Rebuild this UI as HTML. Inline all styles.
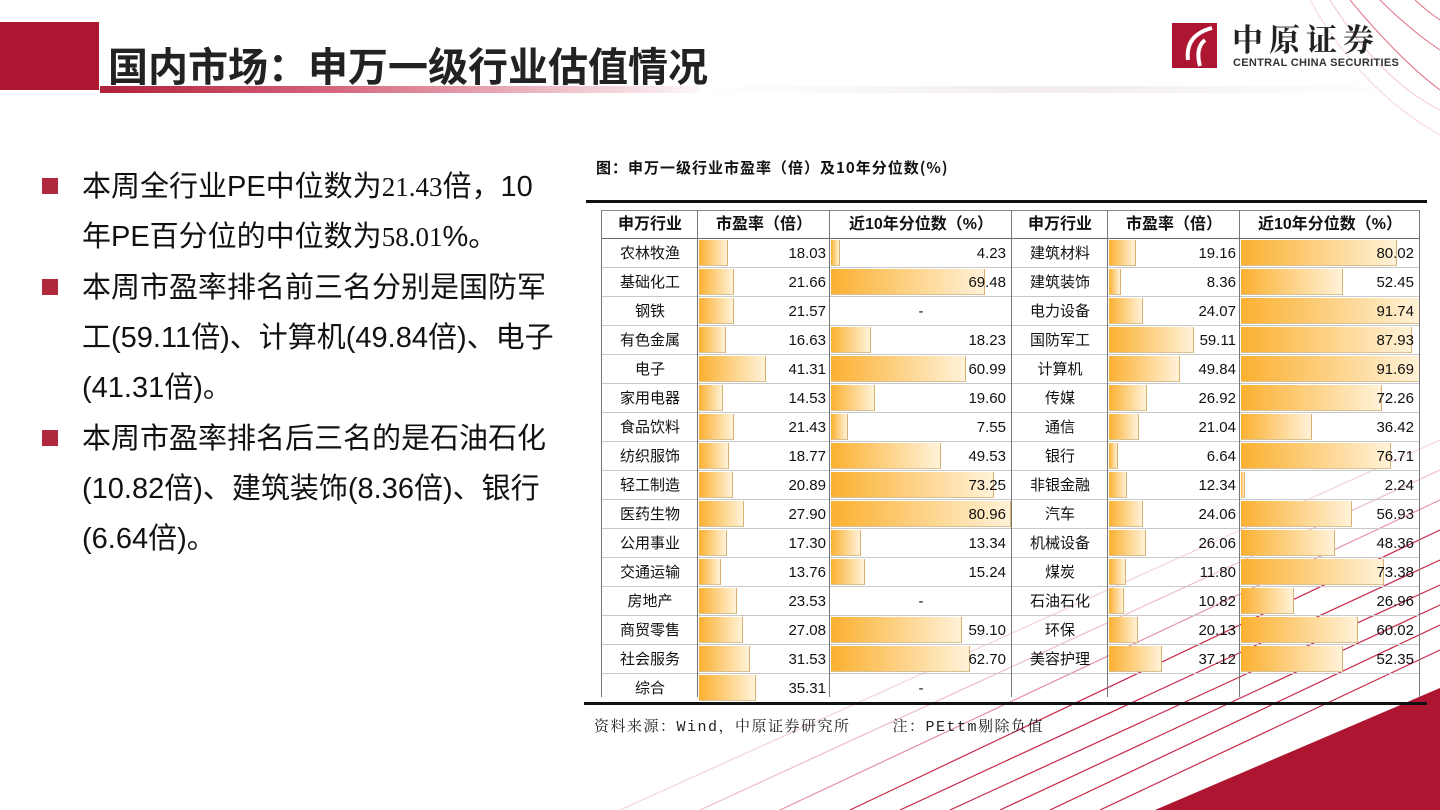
<!DOCTYPE html>
<html><head><meta charset="utf-8">
<style>
*{margin:0;padding:0;box-sizing:border-box}
body{width:1440px;height:810px;overflow:hidden;background:#fff;position:relative;font-family:"Liberation Sans","Noto Sans CJK SC",sans-serif;color:#111}
.abs{position:absolute}
#deco{position:absolute;left:0;top:0}
.title{left:108px;top:37px;font-size:40px;font-weight:bold;color:#222;font-family:"Noto Sans CJK SC",sans-serif;line-height:54px}
.bul{left:42px;width:16px;height:16px;background:#b0283c}
.txt{left:82px;font-size:29px;line-height:50px;color:#111;font-family:"Liberation Sans","Noto Sans CJK SC",sans-serif;width:478px}
.serif{font-family:"Liberation Serif","Noto Serif CJK SC",serif;font-size:27px}
.cap{left:596px;top:157px;font-size:15px;font-weight:bold;letter-spacing:1px;font-family:"Noto Sans CJK SC",sans-serif}
.src{left:594px;top:715px;font-size:15px;letter-spacing:1.5px;font-family:"Liberation Mono","Noto Serif CJK SC",monospace;color:#222}
.cell{position:absolute;height:29px;font-size:15px;line-height:29px;font-family:"Liberation Sans","Noto Sans CJK SC",sans-serif;color:#111}
.bar{position:absolute;top:1px;height:26px;background:linear-gradient(to right,#fbb030,#fff2d8);border-right:1px solid #d8b070;border-bottom:1px solid #d8c090}
</style></head><body>
<svg id="deco" width="1440" height="810">
<defs>
<linearGradient id="ul" x1="0" x2="1"><stop offset="0" stop-color="#b0203a"/><stop offset="0.35" stop-color="#d46078"/><stop offset="1" stop-color="#fff"/></linearGradient>
<linearGradient id="gl" x1="0" x2="1"><stop offset="0" stop-color="#fff"/><stop offset="0.5" stop-color="#f2ecec"/><stop offset="1" stop-color="#fff"/></linearGradient>
</defs>
<rect x="0" y="22" width="99" height="68" fill="#ad1530"/>
<rect x="100" y="86" width="620" height="7" fill="url(#ul)"/>
<rect x="700" y="86" width="700" height="7" fill="url(#gl)"/>
<g fill="none" stroke="#d0344c" stroke-width="1" opacity="0.7">
<path d="M1350 0 Q1400 60 1440 90"/><path d="M1380 0 Q1410 30 1440 50"/><path d="M1415 0 Q1428 12 1440 20"/>
<path d="M1330 0 Q1380 80 1440 110" opacity="0.4"/><path d="M1310 0 Q1360 90 1440 135" opacity="0.3"/>
</g>
<g stroke="#c8284a" stroke-width="1.2" fill="none">
<line x1="900" y1="810" x2="1440" y2="560"/><line x1="950" y1="810" x2="1440" y2="585"/>
<line x1="1000" y1="810" x2="1440" y2="605"/><line x1="1050" y1="810" x2="1440" y2="625"/>
<line x1="1100" y1="810" x2="1440" y2="650"/><line x1="850" y1="810" x2="1440" y2="530"/>
<line x1="780" y1="810" x2="1440" y2="500" opacity="0.5"/><line x1="700" y1="810" x2="1440" y2="470" opacity="0.3"/>
<line x1="620" y1="810" x2="1440" y2="440" opacity="0.2"/>
</g>
<polygon points="1155,810 1440,688 1440,810" fill="#ad1530"/>
<rect x="1172" y="23" width="45" height="45" fill="#ad1530"/>
<path d="M1212 28 Q1185 35 1188 60 M1205 40 Q1195 48 1200 66" stroke="#fff" stroke-width="4" fill="none"/>
</svg>
<div class="abs title">国内市场：申万一级行业估值情况</div>
<div class="abs" style="left:1232px;top:20px;font-size:31px;letter-spacing:6px;font-family:'Noto Serif CJK SC',serif;font-weight:bold;color:#222;line-height:36px">中原证券</div>
<div class="abs" style="left:1233px;top:57px;font-size:11px;font-weight:bold;color:#333;letter-spacing:0.3px">CENTRAL CHINA SECURITIES</div>

<div class="abs bul" style="top:178px"></div>
<div class="abs txt" style="top:162px">本周全行业PE中位数为<span class="serif">21.43</span>倍，10<br>年PE百分位的中位数为<span class="serif">58.01</span>%。</div>
<div class="abs bul" style="top:279px"></div>
<div class="abs txt" style="top:263px">本周市盈率排名前三名分别是国防军<br>工(59.11倍)、计算机(49.84倍)、电子<br>(41.31倍)。</div>
<div class="abs bul" style="top:430px"></div>
<div class="abs txt" style="top:414px">本周市盈率排名后三名的是石油石化<br>(10.82倍)、建筑装饰(8.36倍)、银行<br>(6.64倍)。</div>

<div class="abs cap">图：申万一级行业市盈率（倍）及10年分位数(%)</div>
<div id="tbl" class="abs" style="left:0;top:0;width:1440px;height:810px"></div>
<div class="abs src">资料来源：Wind，中原证券研究所&nbsp;&nbsp;&nbsp;&nbsp;注：PEttm剔除负值</div>

<script>
const leftNames=["农林牧渔","基础化工","钢铁","有色金属","电子","家用电器","食品饮料","纺织服饰","轻工制造","医药生物","公用事业","交通运输","房地产","商贸零售","社会服务","综合"];
const leftPE=[18.03,21.66,21.57,16.63,41.31,14.53,21.43,18.77,20.89,27.90,17.30,13.76,23.53,27.08,31.53,35.31];
const leftPct=[4.23,69.48,null,18.23,60.99,19.60,7.55,49.53,73.25,80.96,13.34,15.24,null,59.10,62.70,null];
const rightNames=["建筑材料","建筑装饰","电力设备","国防军工","计算机","传媒","通信","银行","非银金融","汽车","机械设备","煤炭","石油石化","环保","美容护理"];
const rightPE=[19.16,8.36,24.07,59.11,49.84,26.92,21.04,6.64,12.34,24.06,26.06,11.80,10.82,20.13,37.12];
const rightPct=[80.02,52.45,91.74,87.93,91.69,72.26,36.42,76.71,2.24,56.93,48.36,73.38,26.96,60.02,52.35];
const headers=["申万行业","市盈率（倍）","近10年分位数（%）"];

const T=document.getElementById('tbl');
const top0=210, rowH=29, nRows=16;
const colsL=[602,698,830,1012], colsR=[1012,1108,1240,1420];
function add(cls,style,html,name){
  const d=document.createElement('div');d.className=cls;d.style.cssText=style;d.innerHTML=html;
  
  
  T.appendChild(d);return d;}
function line(x,y,w,h,c,name){
  const d=document.createElement('div');d.style.cssText=`position:absolute;left:${x}px;top:${y}px;width:${w}px;height:${h}px;background:${c}`;
  
  
  T.appendChild(d);}
function side(cols,names,pe,pct,tag,peK,pctK){
  const peW=cols[2]-cols[1];
  headers.forEach((h,i)=>{
    add('cell',`left:${cols[i]}px;top:${top0}px;width:${cols[i+1]-cols[i]}px;text-align:center;font-weight:bold;font-size:16px;height:29px`,h,'header-'+tag+'-'+i);
  });
  for(let r=0;r<nRows;r++){
    const y=top0+rowH*(r+1);
    if(r<names.length){
      add('cell',`left:${cols[0]}px;top:${y}px;width:${cols[1]-cols[0]}px;text-align:center`,names[r],'industry-name');
      add('bar',`left:${cols[1]+1}px;top:${y+1}px;width:${pe[r]*peK}px`,'','pe-bar');
      add('cell',`left:${cols[1]}px;top:${y}px;width:${peW-4}px;text-align:right`,pe[r].toFixed(2),'pe-value');
      if(pct[r]!=null){
        add('bar',`left:${cols[2]+1}px;top:${y+1}px;width:${pct[r]*pctK}px`,'','percentile-bar');
        add('cell',`left:${cols[2]}px;top:${y}px;width:${cols[3]-cols[2]-6}px;text-align:right`,pct[r].toFixed(2),'percentile-value');
      } else {
        add('cell',`left:${cols[2]}px;top:${y}px;width:${cols[3]-cols[2]}px;text-align:center`,'-','percentile-missing');
      }
    }
  }
}
side(colsL,leftNames,leftPE,leftPct,'left',1.62,2.22);
side(colsR,rightNames,rightPE,rightPct,'right',1.43,1.95);
for(let r=1;r<=nRows;r++) line(602,top0+rowH*r-1,818,1,'#c8c8c8','row-line');
line(602,top0,818,1,'#888','header-top-line');
line(602,top0+rowH-1,818,1,'#666','header-bottom-line');
[602,698,830,1012,1108,1240,1420].forEach(x=>line(x-1,top0,1,rowH*(nRows+1)-6,'#777','col-line'));
line(586,200,841,3,'#111','table-top-rule');
line(584,702,843,3,'#111','table-bottom-rule');
</script>
</body></html>
